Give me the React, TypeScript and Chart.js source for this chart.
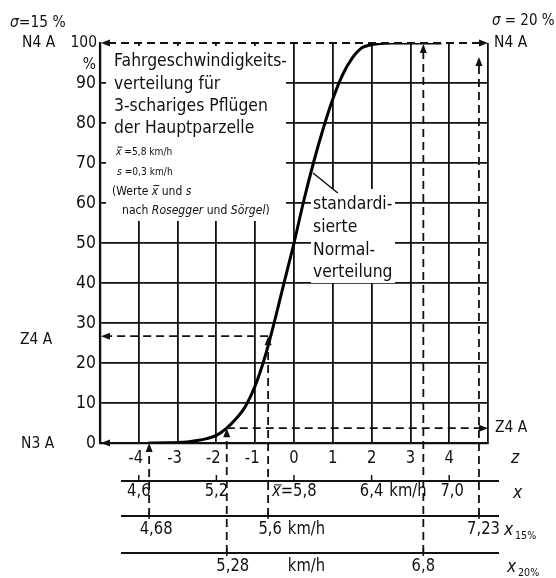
import React, { useEffect, useRef } from "react";
import { Chart, registerables } from "chart.js";
Chart.register(...registerables);

// ---- data ----
const MEAN = 5.8;
const SD = 0.3;
const zTicks = [-4, -3, -2, -1, 0, 1, 2, 3, 4];
const yTicks = [0, 10, 20, 30, 40, 50, 60, 70, 80, 90, 100];
const curveZ = [-3.75, -3.25, -3, -2.75, -2.5, -2.25, -2, -1.75, -1.5, -1.25, -1, -0.75, -0.5, -0.25, 0, 0.25, 0.5, 0.75, 1, 1.25, 1.5, 1.75, 2, 2.5, 3, 3.5, 3.8];
const curvePct = [0, 0.05, 0.12, 0.28, 0.6, 1.1, 1.9, 3.6, 6.0, 9.2, 14.3, 21.5, 30.5, 40.3, 50, 60.5, 70, 78.5, 86, 92, 96.2, 98.8, 99.6, 100, 100, 100, 100];
const xKmh = [4.6, 5.2, 5.8, 6.4, 7.0];
const xKmhText = ["4,6", "5,2", "5,8", "6,4", "7,0"];
const x15Kmh = [4.68, 5.6, 7.23];
const x15Text = ["4,68", "5,6", "7,23"];
const x20Kmh = [5.28, 6.8];
const x20Text = ["5,28", "6,8"];
const levelN4 = 100;
const levelN3 = 0;
const levelZ4Left = 26.7;
const levelZ4Right = 3.7;
const arrow723Tip = 96.5;

const FF = '"DejaVu Sans", "Liberation Sans", sans-serif';
let SX = 0.86;

const toZ = (v: number) => (v - MEAN) / SD;

function T(ctx: CanvasRenderingContext2D, s: string, x: number, y: number, size: number, opt: any = {}) {
  ctx.save();
  ctx.font = `${opt.italic ? "italic " : ""}${size}px ${FF}`;
  ctx.textBaseline = opt.base || "alphabetic";
  ctx.textAlign = "left";
  const w = ctx.measureText(s).width * SX;
  let x0 = x;
  if (opt.align === "center") x0 = x - w / 2;
  else if (opt.align === "right") x0 = x - w;
  ctx.translate(x0, y);
  ctx.scale(SX, 1);
  ctx.fillStyle = "#111";
  ctx.fillText(s, 0, 0);
  ctx.restore();
  if (opt.bar) {
    ctx.save();
    ctx.strokeStyle = "#111";
    ctx.lineWidth = 1;
    const by = opt.base === "middle" ? y - size * 0.42 : y - size * 0.75;
    ctx.beginPath();
    ctx.moveTo(x0 + w * 0.25, by);
    ctx.lineTo(x0 + w + 1, by);
    ctx.stroke();
    ctx.restore();
  }
  return w;
}

function rich(ctx: CanvasRenderingContext2D, parts: any[], x: number, y: number, size: number, base = "alphabetic") {
  let cx = x;
  for (const p of parts) {
    cx += T(ctx, p.t, cx, y, p.size || size, { italic: p.i, bar: p.bar, base });
  }
  return cx - x;
}

function arrow(ctx: CanvasRenderingContext2D, x: number, y: number, dir: string) {
  const L = 9, H = 3.5;
  ctx.save();
  ctx.fillStyle = "#111";
  ctx.beginPath();
  ctx.moveTo(x, y);
  if (dir === "up") { ctx.lineTo(x - H, y + L); ctx.lineTo(x + H, y + L); }
  if (dir === "left") { ctx.lineTo(x + L, y - H); ctx.lineTo(x + L, y + H); }
  if (dir === "right") { ctx.lineTo(x - L, y - H); ctx.lineTo(x - L, y + H); }
  ctx.closePath();
  ctx.fill();
  ctx.restore();
}

function dashed(ctx: CanvasRenderingContext2D, x1: number, y1: number, x2: number, y2: number) {
  ctx.save();
  ctx.strokeStyle = "#111";
  ctx.lineWidth = 1.8;
  ctx.setLineDash([8, 5]);
  ctx.beginPath();
  ctx.moveTo(x1, y1);
  ctx.lineTo(x2, y2);
  ctx.stroke();
  ctx.restore();
}

function solid(ctx: CanvasRenderingContext2D, x1: number, y1: number, x2: number, y2: number, w = 2) {
  ctx.save();
  ctx.strokeStyle = "#111";
  ctx.lineWidth = w;
  ctx.beginPath();
  ctx.moveTo(x1, y1);
  ctx.lineTo(x2, y2);
  ctx.stroke();
  ctx.restore();
}

const decor = {
  id: "decor",
  beforeDatasetsDraw(chart: any) {
    const ctx = chart.ctx as CanvasRenderingContext2D;
    ctx.save();
    ctx.fillStyle = "#fff";
    ctx.fillRect(106, 46, 180, 175);
    ctx.fillRect(311, 189, 84, 94);
    ctx.restore();
  },
  afterDatasetsDraw(chart: any) {
    const ctx = chart.ctx as CanvasRenderingContext2D;
    const xs = chart.scales.x;
    const ys = chart.scales.y;
    const { left, right, top, bottom } = chart.chartArea;
    ctx.save();
    ctx.font = `18px ${FF}`;
    SX = 173 / ctx.measureText("Fahrgeschwindigkeits-").width;
    ctx.restore();

    const X = (kmh: number) => xs.getPixelForValue(toZ(kmh));
    const Y = (p: number) => ys.getPixelForValue(p);
    const yX = 481, y15 = 516, y20 = 553;
    const lx1 = 121, lx2 = 499;

    // borders
    solid(ctx, left, bottom, left, top, 2.2);

    // dashed N4 line at 100 %
    dashed(ctx, left + 8, Y(levelN4), right - 8, Y(levelN4));
    arrow(ctx, left + 1, Y(levelN4), "left");
    arrow(ctx, right, Y(levelN4), "right");
    // N3 arrow at 0
    arrow(ctx, left + 1, Y(levelN3), "left");

    // vertical dashed lines
    dashed(ctx, X(x15Kmh[0]), y15, X(x15Kmh[0]), Y(levelN3) + 8);
    arrow(ctx, X(x15Kmh[0]), Y(levelN3), "up");
    dashed(ctx, X(x15Kmh[1]), y15, X(x15Kmh[1]), Y(levelZ4Left) + 8);
    arrow(ctx, X(x15Kmh[1]), Y(levelZ4Left), "up");
    dashed(ctx, X(x15Kmh[2]), y15, X(x15Kmh[2]), Y(arrow723Tip) + 8);
    arrow(ctx, X(x15Kmh[2]), Y(arrow723Tip), "up");
    dashed(ctx, X(x20Kmh[0]), y20, X(x20Kmh[0]), Y(levelZ4Right) + 8);
    arrow(ctx, X(x20Kmh[0]), Y(levelZ4Right), "up");
    dashed(ctx, X(x20Kmh[1]), y20, X(x20Kmh[1]), Y(levelN4) + 8);
    arrow(ctx, X(x20Kmh[1]), Y(levelN4) + 1, "up");

    // horizontal dashed
    dashed(ctx, X(x15Kmh[1]), Y(levelZ4Left), left + 8, Y(levelZ4Left));
    arrow(ctx, left + 1, Y(levelZ4Left), "left");
    dashed(ctx, X(x20Kmh[0]), Y(levelZ4Right), right - 8, Y(levelZ4Right));
    arrow(ctx, right, Y(levelZ4Right), "right");

    // y labels
    for (const v of yTicks) {
      if (v === 100) T(ctx, "100", left - 3, Y(v), 16, { align: "right", base: "middle" });
      else T(ctx, String(v), left - 4, Y(v), 18, { align: "right", base: "middle" });
    }
    T(ctx, "%", left - 4, 65, 16, { align: "right", base: "middle" });

    // side labels
    rich(ctx, [{ t: "σ", i: true }, { t: "=15 %" }], 10, 23, 16, "middle");
    T(ctx, "N4 A", 22, Y(100), 16, { base: "middle" });
    T(ctx, "Z4 A", 20, Y(levelZ4Left) + 4, 16, { base: "middle" });
    T(ctx, "N3 A", 21, Y(0) + 1, 16, { base: "middle" });
    rich(ctx, [{ t: "σ", i: true }, { t: " = 20 %" }], 492, 21, 15.5, "middle");
    T(ctx, "N4 A", 494, Y(100), 16, { base: "middle" });
    T(ctx, "Z4 A", 495, Y(levelZ4Right), 16, { base: "middle" });

    // title block
    const tx = 114;
    T(ctx, "Fahrgeschwindigkeits-", tx, 66, 18);
    T(ctx, "verteilung für", tx, 89, 18);
    T(ctx, "3-schariges Pflügen", tx, 111, 18);
    T(ctx, "der Hauptparzelle", tx, 133, 18);
    rich(ctx, [{ t: "x", i: true, bar: true }, { t: " =5,8 km/h" }], 116, 155, 10.5);
    rich(ctx, [{ t: "s", i: true }, { t: " =0,3 km/h" }], 117, 175, 10.5);
    rich(ctx, [{ t: "(Werte " }, { t: "x", i: true, bar: true }, { t: " und " }, { t: "s", i: true }], 112, 195, 12.5);
    rich(ctx, [{ t: "nach " }, { t: "Rosegger", i: true }, { t: " und " }, { t: "Sörgel", i: true }, { t: ")" }], 122, 214, 12.5);

    // curve label
    solid(ctx, xs.getPixelForValue(0.49), ys.getPixelForValue(67.5), xs.getPixelForValue(1.13), ys.getPixelForValue(62.5), 1.5);
    T(ctx, "standardi-", 313, 209, 18);
    T(ctx, "sierte", 313, 232, 18);
    T(ctx, "Normal-", 313, 255, 18);
    T(ctx, "verteilung", 313, 277, 18);

    // z labels
    for (const z of zTicks) {
      const s = z < 0 ? "-" + Math.abs(z) : String(z);
      T(ctx, s, xs.getPixelForValue(z) - (z < 0 ? 3 : 0), 459, 17, { align: "center", base: "middle" });
    }
    T(ctx, "z", 511, 458, 18, { italic: true, base: "middle" });

    // lower axes
    solid(ctx, lx1, yX, lx2, yX, 2.2);
    solid(ctx, lx1, y15, lx2, y15, 2.2);
    solid(ctx, lx1, y20, lx2, y20, 2.2);
    for (const v of xKmh) solid(ctx, X(v), yX - 6, X(v), yX, 1.5);
    for (const v of x15Kmh) solid(ctx, X(v), y15 - 5, X(v), y15 + 3, 1.5);
    for (const v of x20Kmh) solid(ctx, X(v), y20 - 5, X(v), y20 + 3, 1.5);

    // x row
    T(ctx, xKmhText[0], X(xKmh[0]), 492, 17, { align: "center", base: "middle" });
    T(ctx, xKmhText[1], X(xKmh[1]), 492, 17, { align: "center", base: "middle" });
    rich(ctx, [{ t: "x", i: true, bar: true }, { t: "=" + xKmhText[2] }], X(xKmh[2]) - 22, 492, 17, "middle");
    const w64 = T(ctx, xKmhText[3], X(xKmh[3]), 492, 17, { align: "center", base: "middle" });
    T(ctx, "km/h", X(xKmh[3]) + w64 / 2 + 6, 492, 17, { base: "middle" });
    T(ctx, xKmhText[4], X(xKmh[4]) + 3, 492, 17, { align: "center", base: "middle" });
    T(ctx, "x", 513, 493, 18, { italic: true, base: "middle" });

    // x15 row
    T(ctx, x15Text[0], X(x15Kmh[0]) + 7, 530, 17, { align: "center", base: "middle" });
    const w56 = T(ctx, x15Text[1], X(x15Kmh[1]) + 2, 530, 17, { align: "center", base: "middle" });
    T(ctx, "km/h", X(x15Kmh[1]) + 2 + w56 / 2 + 6, 530, 17, { base: "middle" });
    T(ctx, x15Text[2], 500, 530, 17, { align: "right", base: "middle" });
    T(ctx, "x", 504, 530, 18, { italic: true, base: "middle" });
    T(ctx, "15%", 515, 536, 11, { base: "middle" });

    // x20 row
    T(ctx, x20Text[0], X(x20Kmh[0]) + 6, 567, 17, { align: "center", base: "middle" });
    T(ctx, "km/h", X(x15Kmh[1]) + 2 + w56 / 2 + 6, 567, 17, { base: "middle" });
    T(ctx, x20Text[1], X(x20Kmh[1]), 567, 17, { align: "center", base: "middle" });
    T(ctx, "x", 507, 567, 18, { italic: true, base: "middle" });
    T(ctx, "20%", 518, 573, 11, { base: "middle" });
  },
};

export default function App() {
  const ref = useRef<HTMLCanvasElement>(null);
  useEffect(() => {
    if (!ref.current) return;
    const chart = new Chart(ref.current, {
      type: "line",
      data: {
        datasets: [
          {
            data: curveZ.map((z, i) => ({ x: z, y: curvePct[i] })),
            borderColor: "#000",
            borderWidth: 3,
            pointRadius: 0,
            cubicInterpolationMode: "monotone",
            fill: false,
          },
        ],
      },
      options: {
        animation: false,
        responsive: false,
        devicePixelRatio: 1,
        layout: { padding: { left: 100, right: 68, top: 43, bottom: 135 } },
        plugins: { legend: { display: false }, tooltip: { enabled: false } },
        scales: {
          x: {
            type: "linear",
            min: -5,
            max: 5,
            ticks: { display: false, stepSize: 1 },
            grid: { color: "#111", lineWidth: 1.8, drawTicks: false },
            border: { display: true, color: "#111", width: 2.2 },
          },
          y: {
            min: 0,
            max: 100,
            ticks: { display: false, stepSize: 10 },
            grid: {
              color: (c: any) => (c.tick && c.tick.value === 100 ? "rgba(0,0,0,0)" : "#111"),
              lineWidth: 1.8,
              drawTicks: false,
            },
            border: { display: true, color: "#111", width: 2.2 },
          },
        },
      },
      plugins: [decor],
    } as any);
    return () => chart.destroy();
  }, []);
  return (
    <div style={{ position: "absolute", left: 0, top: 0, width: 556, height: 578, background: "#fff" }}>
      <canvas ref={ref} width={556} height={578} style={{ display: "block" }} />
    </div>
  );
}
